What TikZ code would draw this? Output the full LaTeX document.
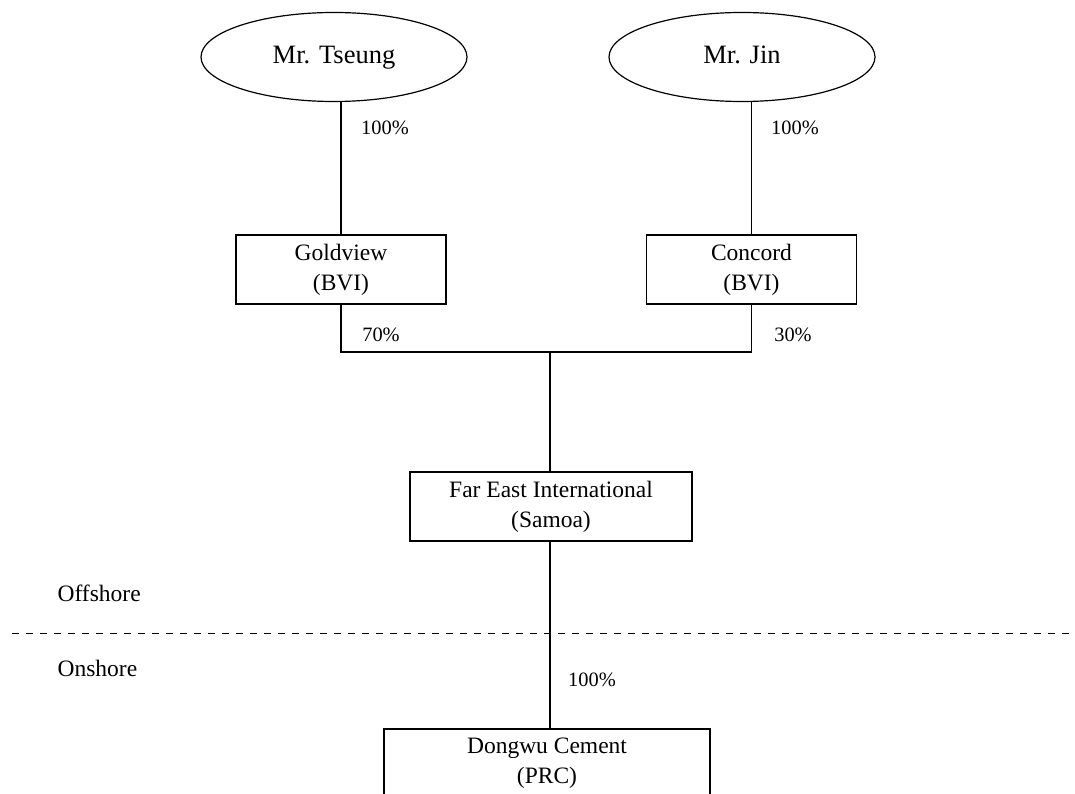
\documentclass[tikz,border=0pt]{standalone}
\usepackage{fontspec}
\setmainfont{Liberation Serif}
\usetikzlibrary{shapes.geometric}
\begin{document}
\begin{tikzpicture}[x=1pt,y=-1pt,
  line width=1.2pt,
  person/.style={draw, ellipse, minimum width=266pt, minimum height=89pt, inner sep=0pt,
    text height=18pt, text depth=4pt,
    font=\fontsize{26.5}{32}\selectfont},
  entity/.style={draw, rectangle, minimum height=69pt, inner sep=0pt, align=center,
    font=\fontsize{23.5}{30}\selectfont},
  pct/.style={font=\fontsize{20.4}{24}\selectfont, inner sep=0pt},
  zone/.style={font=\fontsize{23.5}{28}\selectfont, inner sep=0pt, anchor=west},
  divider/.style={line width=1pt, dash pattern=on 7pt off 7pt}]
\useasboundingbox (0,0) rectangle (1075,794);
\clip (0,0) rectangle (1075,794);

\node[person] (tseung) at (334,57) {Mr. Tseung};
\node[person] (jin) at (742,57) {Mr. Jin};

\node[entity, minimum width=210pt] (goldview) at (341,269.5) {Goldview\\(BVI)};
\node[entity, minimum width=210pt] (concord) at (751.5,269.5) {Concord\\(BVI)};
\node[entity, minimum width=282pt] (fareast) at (551,506.5) {Far East International\\(Samoa)};
\node[entity, minimum width=326pt] (dongwu) at (547,763.5) {Dongwu Cement\\(PRC)};

\coordinate (jl) at (341,352);
\coordinate (jr) at (751.5,352);
\coordinate (jc) at (550,352);

\draw (goldview.north) -- (goldview.north |- tseung.south);
\draw (concord.north) -- (concord.north |- jin.south);
\draw (goldview.south) -- (jl) -- (jr) -- (concord.south);
\draw (jc) -- (jc |- fareast.north);
\draw (fareast.south -| jc) -- (jc |- dongwu.north);

\coordinate (dl) at (12,633);
\coordinate (dr) at (1075,633);
\draw[divider] (dl) -- (dr);

\node[pct] (p1) at (385,128) {100\%};
\node[pct] (p2) at (795,128) {100\%};
\node[pct] (p3) at (381,335) {70\%};
\node[pct] (p4) at (793,335) {30\%};
\node[pct] (p5) at (592,680) {100\%};

\node[zone] (off) at (57,593) {Offshore};
\node[zone] (on) at (57,668) {Onshore};
\end{tikzpicture}
\end{document}
